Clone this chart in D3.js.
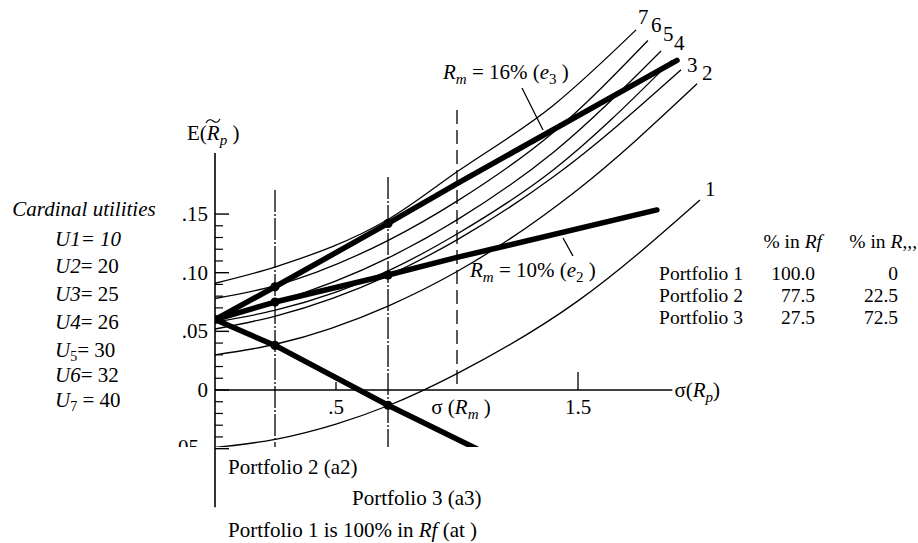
<!DOCTYPE html>
<html>
<head>
<meta charset="utf-8">
<script src="https://cdn.jsdelivr.net/npm/d3@7"></script>
<style>
  html, body { margin: 0; padding: 0; background: #fff; }
  svg text { font-family: "Liberation Serif", "Times New Roman", serif; fill: #000; }
</style>
</head>
<body>
<svg id="chart" width="918" height="543" font-family="Liberation Serif, Times New Roman, serif"></svg>
<script>
// ---------------- data ----------------
const returnTicks = [-0.05, 0, 0.05, 0.10, 0.15];
const returnTickLabels = [".05", "0", ".05", ".10", ".15"];
const returnMinorTicks = [-0.04, -0.03, -0.02, -0.01, 0.01, 0.02, 0.03, 0.04,
                          0.06, 0.07, 0.08, 0.09, 0.11, 0.12, 0.13, 0.14];
const sigmaTicks = [0.5, 1.0, 1.5];
const sigmaTickLabels = [".5", "σ(Rm)", "1.5"];

const utilityNames = ["U1", "U2", "U3", "U4", "U5", "U6", "U7"];
const utilityValues = [10, 20, 25, 26, 30, 32, 40];
const curveLabels = ["1", "2", "3", "4", "5", "6", "7"];

// indifference curves: [sigma, expected return]
const curveU1 = [[0, -0.049], [0.25, -0.042], [0.5, -0.029], [0.72, -0.013], [1.0, 0.014], [1.5, 0.076], [2.004, 0.162]];
const curveU2 = [[0, 0.030], [0.25, 0.039], [0.72, 0.072], [1.0, 0.101], [1.5, 0.171], [1.992, 0.261]];
const curveU3 = [[0, 0.052], [0.25, 0.063], [0.72, 0.098], [1.0, 0.128], [1.4, 0.182], [1.926, 0.273]];
const curveU4 = [[0, 0.058], [0.25, 0.068], [0.72, 0.102], [1.0, 0.133], [1.4, 0.188], [1.888, 0.281]];
const curveU5 = [[0, 0.062], [0.25, 0.075], [0.72, 0.113], [1.0, 0.145], [1.4, 0.203], [1.843, 0.289]];
const curveU6 = [[0, 0.078], [0.25, 0.089], [0.72, 0.128], [1.0, 0.161], [1.4, 0.220], [1.789, 0.298]];
const curveU7 = [[0, 0.091], [0.25, 0.105], [0.72, 0.146], [1.0, 0.186], [1.4, 0.243], [1.740, 0.307]];

// opportunity lines
const lineE3 = [[0, 0.06], [0.248, 0.088], [0.715, 0.142], [1.0, 0.176], [1.909, 0.281]]; // Rm = 16%
const lineE2 = [[0, 0.06], [0.248, 0.075], [0.715, 0.098], [1.0, 0.113], [1.826, 0.1535]]; // Rm = 10%
const lineE1 = [[0, 0.06], [0.248, 0.038], [0.715, -0.013], [1.09, -0.051]];

const portfolioSigma = [0, 0.248, 0.715];
const portfolioPoints = [[0, 0.06], [0.248, 0.088], [0.248, 0.075], [0.248, 0.038],
                         [0.715, 0.142], [0.715, 0.098], [0.715, -0.013]];
const marketSigma = 1.0;

const tableRows = ["Portfolio 1", "Portfolio 2", "Portfolio 3"];
const pctInRf = ["100.0", "77.5", "27.5"];
const pctInRm = ["0", "22.5", "72.5"];

// ---------------- drawing ----------------
const svg = d3.select("#chart");
const FS = 21;

const x = d3.scaleLinear().domain([0, 1]).range([215, 457]);
const y = d3.scaleLinear().domain([0, 0.05]).range([390, 331.35]);

const defs = svg.append("defs");
defs.append("clipPath").attr("id", "plotClip")
  .append("rect").attr("x", x(0)).attr("y", 0).attr("width", 918 - x(0)).attr("height", 447);
defs.append("clipPath").attr("id", "labelClip")
  .append("rect").attr("x", 0).attr("y", 0).attr("width", 918).attr("height", 447);

const plot = svg.append("g").attr("clip-path", "url(#plotClip)");

// vertical portfolio lines
plot.selectAll("line.pv").data(portfolioSigma.slice(1)).enter().append("line")
  .attr("x1", d => x(d)).attr("x2", d => x(d))
  .attr("y1", (d, i) => i === 0 ? 190 : 177).attr("y2", 447)
  .attr("stroke", "#000").attr("stroke-width", 1.3)
  .attr("stroke-dasharray", "22,2,2,2");

// dashed market sigma line
plot.append("line")
  .attr("x1", x(marketSigma)).attr("x2", x(marketSigma))
  .attr("y1", 110).attr("y2", y(0))
  .attr("stroke", "#000").attr("stroke-width", 1.3)
  .attr("stroke-dasharray", "14,6");

// indifference curves
const curveLine = d3.line().x(d => x(d[0])).y(d => y(d[1])).curve(d3.curveMonotoneX);
const curves = [curveU1, curveU2, curveU3, curveU4, curveU5, curveU6, curveU7];
plot.selectAll("path.ic").data(curves).enter().append("path")
  .attr("d", curveLine).attr("fill", "none")
  .attr("stroke", "#000").attr("stroke-width", 1.3);

// opportunity lines
const straight = d3.line().x(d => x(d[0])).y(d => y(d[1]));
[lineE3, lineE2, lineE1].forEach(l => {
  plot.append("path").attr("d", straight(l)).attr("fill", "none")
    .attr("stroke", "#000").attr("stroke-width", 5.5)
    .attr("stroke-linecap", "round").attr("stroke-linejoin", "round");
});

// dots
plot.selectAll("circle.pt").data(portfolioPoints).enter().append("circle")
  .attr("cx", d => x(d[0])).attr("cy", d => y(d[1])).attr("r", 4.6).attr("fill", "#000");

// curve labels
const labelOffsets = [[5, -4], [5, -4], [6, 2], [2, -10], [2, -10], [3, -8], [2, -6]];
curves.forEach((c, i) => {
  const e = c[c.length - 1];
  svg.append("text").attr("x", x(e[0]) + labelOffsets[i][0]).attr("y", y(e[1]) + labelOffsets[i][1])
    .attr("font-size", FS).text(curveLabels[i]);
});

// y axis
svg.append("line").attr("x1", x(0)).attr("x2", x(0)).attr("y1", y(0.202)).attr("y2", y(-0.1))
  .attr("stroke", "#000").attr("stroke-width", 1.6);
svg.selectAll("line.ymaj").data(returnTicks).enter().append("line")
  .attr("x1", x(0)).attr("x2", x(0) + 14).attr("y1", d => y(d)).attr("y2", d => y(d))
  .attr("stroke", "#000").attr("stroke-width", 1.4);
svg.selectAll("line.ymin").data(returnMinorTicks).enter().append("line")
  .attr("x1", x(0)).attr("x2", x(0) + 8).attr("y1", d => y(d)).attr("y2", d => y(d))
  .attr("stroke", "#000").attr("stroke-width", 1.2);
returnTicks.forEach((t, i) => {
  const tx = svg.append("text").attr("x", t < 0 ? 199 : 208).attr("y", y(t) + (t < 0 ? 5 : 7))
    .attr("text-anchor", "end").attr("font-size", FS).text(returnTickLabels[i]);
  if (t < 0) tx.attr("clip-path", "url(#labelClip)");
});

// x axis
svg.append("line").attr("x1", x(0)).attr("x2", x(1.89)).attr("y1", y(0)).attr("y2", y(0))
  .attr("stroke", "#000").attr("stroke-width", 1.4);
svg.append("line").attr("x1", x(0.5)).attr("x2", x(0.5)).attr("y1", y(0)).attr("y2", y(0) - 8)
  .attr("stroke", "#000").attr("stroke-width", 1.3);
svg.append("line").attr("x1", x(1.5)).attr("x2", x(1.5)).attr("y1", y(0)).attr("y2", y(0) - 18)
  .attr("stroke", "#000").attr("stroke-width", 1.3);
sigmaTicks.forEach((t, i) => {
  const lab = sigmaTickLabels[i];
  const tx = svg.append("text").attr("x", x(t) + (i === 1 ? 4 : 0)).attr("y", y(0) + 24)
    .attr("text-anchor", "middle").attr("font-size", FS);
  if (lab.startsWith("σ")) {
    tx.append("tspan").text("σ (");
    tx.append("tspan").attr("font-style", "italic").text("R");
    tx.append("tspan").attr("font-style", "italic").attr("font-size", 15).attr("dy", 5).text("m");
    tx.append("tspan").attr("dy", -5).text(" )");
  } else tx.text(lab);
});

// axis titles
const xt = svg.append("text").attr("x", x(1.89) + 2).attr("y", y(0) + 7).attr("font-size", FS);
xt.append("tspan").text("σ(");
xt.append("tspan").attr("font-style", "italic").text("R");
xt.append("tspan").attr("font-style", "italic").attr("font-size", 15).attr("dy", 5).text("p");
xt.append("tspan").attr("dy", -5).text(")");

const yt = svg.append("text").attr("x", 187).attr("y", 140).attr("font-size", FS);
yt.append("tspan").text("E(");
yt.append("tspan").attr("font-style", "italic").text("R");
yt.append("tspan").attr("font-style", "italic").attr("font-size", 15).attr("dy", 5).text("p");
yt.append("tspan").attr("dy", -5).text(" )");
// tilde over R drawn as a small path
svg.append("path")
  .attr("d", "M206,123 C208,119 211,119 213,121 C215,123 218,123 220,119")
  .attr("fill", "none").attr("stroke", "#000").attr("stroke-width", 1.1);

// line labels
function rmLabel(px, py, pct, sub) {
  const t = svg.append("text").attr("x", px).attr("y", py).attr("font-size", FS);
  t.append("tspan").attr("font-style", "italic").text("R");
  t.append("tspan").attr("font-style", "italic").attr("font-size", 15).attr("dy", 5).text("m");
  t.append("tspan").attr("dy", -5).text(" = " + pct + " (");
  t.append("tspan").attr("font-style", "italic").text("e");
  t.append("tspan").attr("font-size", 15).attr("dy", 5).text(sub);
  t.append("tspan").attr("dy", -5).text(" )");
}
rmLabel(443, 79, "16%", "3");
rmLabel(470, 277, "10%", "2");
svg.append("line").attr("x1", 522).attr("y1", 88).attr("x2", 543).attr("y2", 130)
  .attr("stroke", "#000").attr("stroke-width", 1.3);
svg.append("line").attr("x1", 563).attr("y1", 238).attr("x2", 573).attr("y2", 256)
  .attr("stroke", "#000").attr("stroke-width", 1.3);

// cardinal utilities
svg.append("text").attr("x", 84).attr("y", 216).attr("text-anchor", "middle")
  .attr("font-size", FS).attr("font-style", "italic").text("Cardinal utilities");
const uBase = [246, 273, 301, 329, 357, 382, 407];
utilityNames.forEach((n, i) => {
  const t = svg.append("text").attr("x", 55).attr("y", uBase[i]).attr("font-size", FS);
  if (i === 0) {
    t.attr("font-style", "italic").text(n + "= " + utilityValues[i]);
  } else if (i === 4 || i === 6) {
    t.append("tspan").attr("font-style", "italic").text(n[0]);
    t.append("tspan").attr("font-size", 14).attr("dy", 4).text(n.slice(1));
    t.append("tspan").attr("dy", -4).text((i === 6 ? " = " : "= ") + utilityValues[i]);
  } else {
    t.append("tspan").attr("font-style", "italic").text(n);
    t.append("tspan").text("= " + utilityValues[i]);
  }
});

// table
const TFS = 19.5;
const h1 = svg.append("text").attr("x", 822).attr("y", 248).attr("text-anchor", "end").attr("font-size", TFS);
h1.append("tspan").text("% in ");
h1.append("tspan").attr("font-style", "italic").text("Rf");
const h2 = svg.append("text").attr("x", 917).attr("y", 248).attr("text-anchor", "end").attr("font-size", TFS);
h2.append("tspan").text("% in ");
h2.append("tspan").attr("font-style", "italic").text("R");
h2.append("tspan").text(",,,");
tableRows.forEach((r, i) => {
  const by = 280 + i * 22;
  svg.append("text").attr("x", 743).attr("y", by).attr("text-anchor", "end").attr("font-size", TFS).text(r);
  svg.append("text").attr("x", 815).attr("y", by).attr("text-anchor", "end").attr("font-size", TFS).text(pctInRf[i]);
  svg.append("text").attr("x", 898).attr("y", by).attr("text-anchor", "end").attr("font-size", TFS).text(pctInRm[i]);
});

// bottom annotations
svg.append("text").attr("x", 228).attr("y", 474).attr("font-size", FS).text("Portfolio 2 (a2)");
svg.append("text").attr("x", 352).attr("y", 505).attr("font-size", FS).text("Portfolio 3 (a3)");
const b3 = svg.append("text").attr("x", 228).attr("y", 537).attr("font-size", FS);
b3.append("tspan").text("Portfolio 1 is 100% in ");
b3.append("tspan").attr("font-style", "italic").text("Rf");
b3.append("tspan").text(" (at )");
</script>
</body>
</html>
